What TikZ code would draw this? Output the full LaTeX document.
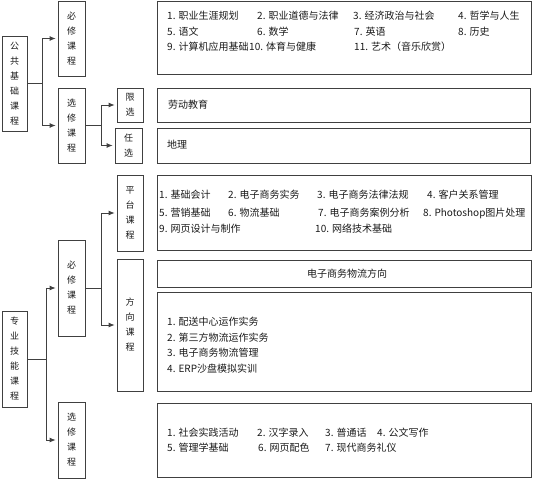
\documentclass[tikz,border=0pt]{standalone}
\usepackage{fontspec}
\setmainfont{Noto Sans CJK SC}
\usetikzlibrary{arrows.meta}
\definecolor{ln}{HTML}{404040}
\definecolor{tx}{HTML}{1A1A1A}
\begin{document}
\begin{tikzpicture}[x=1pt,y=-1pt,
  box/.style={draw=ln, line width=0.8pt, inner sep=0pt, rectangle},
  vlab/.style={box, align=center, font=\fontsize{9}{15}\selectfont, text=tx},
  item/.style={anchor=west, inner sep=0pt, font=\fontsize{10}{12}\selectfont, text=tx},
  conn/.style={draw=ln, line width=0.8pt},
  arr/.style={conn, -{Latex[length=6pt,width=5pt]}, shorten >=2pt}]
\useasboundingbox (0,0) rectangle (535,479);

% left column boxes
\node[vlab, minimum width=25pt, minimum height=95pt] (A) at (14.5,83.5) {公\\共\\基\\础\\课\\程};
\node[vlab, minimum width=27pt, minimum height=75pt] (B) at (71.5,38.5) {必\\修\\课\\程};
\node[vlab, minimum width=27pt, minimum height=75pt] (C) at (71.5,125.5) {选\\修\\课\\程};
\node[vlab, minimum width=26pt, minimum height=34pt] (D) at (130,105) {限\\选};
\node[vlab, minimum width=27pt, minimum height=35pt] (E) at (128.5,145.5) {任\\选};

\node[vlab, minimum width=25pt, minimum height=96pt] (F) at (14.5,359) {专\\业\\技\\能\\课\\程};
\node[vlab, minimum width=27pt, minimum height=96pt] (G) at (71.5,288) {必\\修\\课\\程};
\node[vlab, minimum width=27pt, minimum height=76pt] (H) at (71.5,440) {选\\修\\课\\程};
\node[vlab, minimum width=26pt, minimum height=76pt] (I) at (130,213) {平\\台\\课\\程};
\node[vlab, minimum width=26pt, minimum height=132pt] (J) at (130,325) {方\\向\\课\\程};

% right boxes
\node[box, minimum width=374pt, minimum height=73pt] (R1) at (344,37.5) {};
\node[box, minimum width=373pt, minimum height=34pt] (R2) at (343.5,105) {};
\node[box, minimum width=373pt, minimum height=35pt] (R3) at (343.5,145.5) {};
\node[box, minimum width=374pt, minimum height=75pt] (R4) at (344,212.5) {};
\node[box, minimum width=374pt, minimum height=27pt] (R5) at (344,273.5) {};
\node[box, minimum width=374pt, minimum height=99pt] (R6) at (344,341.5) {};
\node[box, minimum width=374pt, minimum height=74pt] (R7) at (344,440) {};

% R1 text
\node[item] (r1a) at (167,16) {1. 职业生涯规划};
\node[item] (r1b) at (257,16) {2. 职业道德与法律};
\node[item] (r1c) at (353,16) {3. 经济政治与社会};
\node[item] (r1d) at (458,16) {4. 哲学与人生};
\node[item] (r1e) at (167,32) {5. 语文};
\node[item] (r1f) at (257,32) {6. 数学};
\node[item] (r1g) at (354,32) {7. 英语};
\node[item] (r1h) at (458,32) {8. 历史};
\node[item] (r1i) at (167,47) {9. 计算机应用基础};
\node[item] (r1j) at (249,47) {10. 体育与健康};
\node[item] (r1k) at (354,47) {11. 艺术（音乐欣赏）};

\node[item] (r2a) at (168,105) {劳动教育};
\node[item] (r3a) at (167,145) {地理};

% R4 text
\node[item] (r4a) at (159,195) {1. 基础会计};
\node[item] (r4b) at (228,195) {2. 电子商务实务};
\node[item] (r4c) at (317,195) {3. 电子商务法律法规};
\node[item] (r4d) at (427,195) {4. 客户关系管理};
\node[item] (r4e) at (159,213) {5. 营销基础};
\node[item] (r4f) at (228,213) {6. 物流基础};
\node[item] (r4g) at (318,213) {7. 电子商务案例分析};
\node[item] (r4h) at (423,213) {8. Photoshop图片处理};
\node[item] (r4i) at (159,229) {9. 网页设计与制作};
\node[item] (r4j) at (315,229) {10. 网络技术基础};

\node[item, anchor=center] (r5a) at (347,274) {电子商务物流方向};

\node[item] (r6a) at (167,322) {1. 配送中心运作实务};
\node[item] (r6b) at (167,337.5) {2. 第三方物流运作实务};
\node[item] (r6c) at (167,353) {3. 电子商务物流管理};
\node[item] (r6d) at (167,368.5) {4. ERP沙盘模拟实训};

\node[item] (r7a) at (167,433) {1. 社会实践活动};
\node[item] (r7b) at (257,433) {2. 汉字录入};
\node[item] (r7c) at (325,433) {3. 普通话};
\node[item] (r7d) at (377,433) {4. 公文写作};
\node[item] (r7e) at (167,448) {5. 管理学基础};
\node[item] (r7f) at (258,448) {6. 网页配色};
\node[item] (r7g) at (325,448) {7. 现代商务礼仪};

% connectors
\draw[conn] (A.east) -- ++(15,0) coordinate (jA);
\draw[arr] (jA) |- (B.west);
\draw[arr] (jA) |- (C.west);
\draw[conn] (C.east) -- ++(16,0) coordinate (jC);
\draw[arr] (jC) |- (D.west);
\draw[arr] (jC) |- (E.west);
\draw[conn] (F.east) -- ++(19,0) coordinate (jF);
\draw[arr] (jF) |- (G.west);
\draw[arr] (jF) |- (H.west);
\draw[conn] (G.east) -- ++(16,0) coordinate (jG);
\draw[arr] (jG) |- (I.west);
\draw[arr] (jG) |- (J.west);
\end{tikzpicture}
\end{document}
